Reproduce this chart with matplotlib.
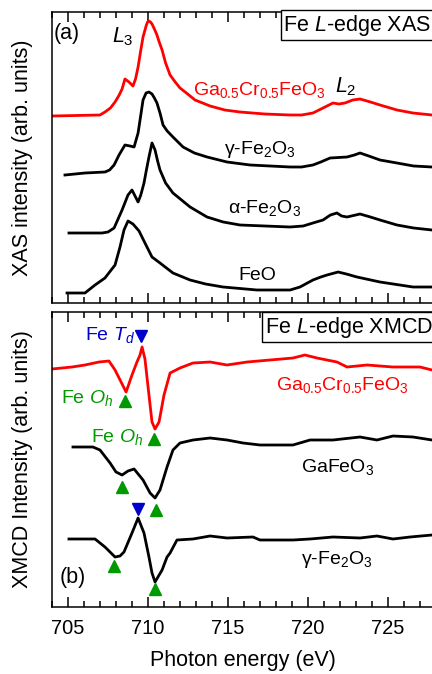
import numpy as np
import matplotlib
matplotlib.use("Agg")
import matplotlib.pyplot as plt
from matplotlib.ticker import MultipleLocator

plt.rcParams["font.family"] = ["Liberation Sans", "DejaVu Sans"]
plt.rcParams["mathtext.fontset"] = "custom"
plt.rcParams["mathtext.rm"] = "Liberation Sans"
plt.rcParams["mathtext.it"] = "Liberation Sans:italic"

RED = "#ff0000"
GREEN = "#009a00"
BLUE = "#0000cc"

# --- (a) XAS spectra, offset, arb. units ---
xas_gcfo_e = [704.0, 707.0, 707.31, 707.65, 707.94, 708.2, 708.38, 708.56, 708.81, 709.06, 709.22,
              709.38, 709.54, 709.69, 709.88, 709.97, 710.06, 710.15, 710.25, 710.4, 710.56, 710.7,
              710.88, 711.1, 711.38, 711.7, 712.0, 712.4, 712.94, 713.88, 714.8, 715.75, 717.3,
              718.88, 719.6, 720.31, 720.94, 721.56, 721.94, 722.31, 722.8, 723.25, 723.9, 724.5,
              725.56, 726.56, 727.75]
xas_gcfo_i = [1.87, 1.88, 1.91, 1.95, 2.01, 2.08, 2.14, 2.24, 2.21, 2.17, 2.24,
              2.36, 2.52, 2.66, 2.77, 2.81, 2.82, 2.81, 2.79, 2.74, 2.68, 2.61,
              2.53, 2.40, 2.28, 2.21, 2.15, 2.10, 2.03, 1.97, 1.93, 1.91, 1.89,
              1.88, 1.88, 1.90, 1.95, 2.00, 1.99, 2.00, 2.03, 2.04, 2.01, 1.98,
              1.93, 1.90, 1.88]

xas_gfo_e = [704.81, 706.06, 707.31, 707.6, 707.88, 708.19, 708.56, 708.88, 709.13, 709.38, 709.55,
             709.69, 709.88, 710.06, 710.25, 710.4, 710.56, 710.75, 710.94, 711.2, 711.56, 712.19,
             712.9, 713.69, 714.94, 716.38, 718.88, 719.6, 720.31, 720.8, 721.38, 722.44, 722.9,
             723.25, 723.8, 724.5, 725.56, 726.6, 727.75]
xas_gfo_i = [1.28, 1.30, 1.31, 1.33, 1.38, 1.48, 1.58, 1.57, 1.56, 1.70, 1.88,
             2.03, 2.10, 2.11, 2.09, 2.05, 2.00, 1.90, 1.78, 1.72, 1.66, 1.56,
             1.50, 1.46, 1.41, 1.38, 1.36, 1.36, 1.38, 1.41, 1.45, 1.46, 1.48,
             1.50, 1.47, 1.43, 1.40, 1.37, 1.36]

xas_afo_e = [705.06, 707.13, 707.5, 707.88, 708.38, 708.75, 709.0, 709.19, 709.38, 709.55, 709.75,
             709.9, 710.06, 710.25, 710.44, 710.6, 710.75, 711.1, 711.56, 712.63, 713.69, 714.7,
             715.75, 718.88, 719.7, 720.31, 720.94, 721.4, 721.81, 722.1, 722.44, 723.25, 723.9,
             724.5, 725.56, 726.6, 727.75]
xas_afo_i = [0.70, 0.70, 0.71, 0.75, 0.93, 1.08, 1.13, 1.07, 1.01, 1.08, 1.20,
             1.33, 1.46, 1.60, 1.53, 1.42, 1.33, 1.20, 1.10, 0.96, 0.86, 0.81,
             0.78, 0.76, 0.77, 0.80, 0.83, 0.88, 0.90, 0.87, 0.86, 0.89, 0.86,
             0.83, 0.78, 0.75, 0.73]

xas_feo_e = [704.94, 706.06, 706.69, 707.31, 707.94, 708.25, 708.5, 708.75, 709.06, 709.44, 709.81,
             710.25, 710.75, 711.56, 712.63, 713.6, 714.69, 716.81, 718.88, 719.5, 720.31, 720.8,
             721.19, 721.88, 722.4, 723.06, 724.5, 726.56, 727.75]
xas_feo_i = [0.10, 0.10, 0.18, 0.25, 0.38, 0.56, 0.73, 0.82, 0.79, 0.72, 0.60,
             0.46, 0.40, 0.30, 0.23, 0.19, 0.16, 0.13, 0.13, 0.16, 0.23, 0.26,
             0.28, 0.31, 0.29, 0.26, 0.21, 0.16, 0.16]

# --- (b) XMCD spectra, offset, arb. units ---
xmcd_gcfo_e = [704.0, 705.25, 706.06, 706.94, 707.56, 707.94, 708.38, 708.63, 709.0, 709.31, 709.5,
               709.63, 709.81, 710.06, 710.25, 710.44, 710.69, 711.0, 711.38, 712.0, 712.81, 713.88,
               714.94, 716.19, 717.63, 719.06, 719.81, 720.56, 721.81, 722.44, 723.69, 725.31,
               727.0, 727.75]
xmcd_gcfo_i = [2.38, 2.40, 2.42, 2.45, 2.46, 2.37, 2.23, 2.15, 2.32, 2.45, 2.52,
               2.60, 2.48, 2.12, 1.85, 1.78, 1.85, 2.12, 2.34, 2.39, 2.44, 2.45,
               2.42, 2.45, 2.47, 2.49, 2.52, 2.49, 2.45, 2.40, 2.42, 2.40,
               2.40, 2.37]

xmcd_gfo_e = [705.31, 706.56, 707.0, 707.63, 708.0, 708.38, 708.75, 709.13, 709.69, 710.13, 710.44,
              710.75, 711.19, 711.56, 712.0, 712.81, 713.88, 714.94, 715.94, 717.0, 719.06, 720.13,
              721.56, 723.25, 724.31, 725.31, 726.56, 727.75]
xmcd_gfo_i = [1.60, 1.60, 1.57, 1.44, 1.35, 1.32, 1.36, 1.38, 1.27, 1.14, 1.09,
              1.17, 1.40, 1.57, 1.64, 1.67, 1.69, 1.67, 1.64, 1.62, 1.62, 1.67,
              1.67, 1.70, 1.67, 1.71, 1.70, 1.67]

xmcd_gam_e = [705.06, 706.69, 707.31, 707.94, 708.25, 708.5, 709.0, 709.38, 709.75, 710.06, 710.25,
              710.44, 710.88, 711.19, 711.38, 711.81, 712.81, 713.88, 714.94, 716.56, 717.0, 719.06,
              720.13, 721.56, 723.25, 724.31, 725.31, 726.38, 727.75]
xmcd_gam_i = [0.68, 0.68, 0.60, 0.50, 0.51, 0.55, 0.74, 0.89, 0.74, 0.50, 0.34,
              0.25, 0.37, 0.50, 0.54, 0.67, 0.68, 0.71, 0.69, 0.70, 0.67, 0.67,
              0.68, 0.70, 0.69, 0.71, 0.68, 0.70, 0.72]

# site markers (energy, intensity)
oh_e = [708.56, 710.38, 708.38, 710.5, 707.88, 710.44]
oh_i = [2.06, 1.68, 1.20, 0.97, 0.41, 0.18]
td_e = [709.56, 709.38]
td_i = [2.71, 0.98]

fig = plt.figure(figsize=(4.32, 6.74), dpi=100)
ax1 = fig.add_axes([52 / 432, 371 / 674, 382 / 432, 291 / 674])
ax2 = fig.add_axes([52 / 432, 67 / 674, 382 / 432, 295 / 674])

lw = 2.0
ax1.plot(xas_gcfo_e, xas_gcfo_i, color=RED, lw=lw)
ax1.plot(xas_gfo_e, xas_gfo_i, color="black", lw=lw)
ax1.plot(xas_afo_e, xas_afo_i, color="black", lw=lw)
ax1.plot(xas_feo_e, xas_feo_i, color="black", lw=lw)
ax1.set_ylim(0, 2.91)

ax2.plot(xmcd_gcfo_e, xmcd_gcfo_i, color=RED, lw=lw)
ax2.plot(xmcd_gfo_e, xmcd_gfo_i, color="black", lw=lw)
ax2.plot(xmcd_gam_e, xmcd_gam_i, color="black", lw=lw)
ax2.plot(oh_e, oh_i, ls="none", marker="^", ms=8, color=GREEN)
ax2.plot(td_e, td_i, ls="none", marker="v", ms=8, color=BLUE)
ax2.set_ylim(0, 2.95)

for ax in (ax1, ax2):
    ax.set_xlim(704.0, 727.875)
    ax.xaxis.set_major_locator(MultipleLocator(5))
    ax.xaxis.set_minor_locator(MultipleLocator(1))
    ax.tick_params(axis="x", which="both", direction="in", top=True, bottom=True, width=1.1)
    ax.tick_params(axis="x", which="major", length=7)
    ax.tick_params(axis="x", which="minor", length=4.3)
    ax.set_yticks([])
    for s in ax.spines.values():
        s.set_linewidth(1.1)

ax1.tick_params(axis="x", labelbottom=False)
ax2.tick_params(axis="x", labelsize=14.5, pad=9)

ax1.set_ylabel("XAS intensity (arb. units)", fontsize=15.5)
ax2.set_ylabel("XMCD Intensity (arb. units)", fontsize=15.5)
ax2.set_xlabel("Photon energy (eV)", fontsize=15.5, labelpad=8)
ax1.yaxis.set_label_coords(-0.05, 0.5)
ax2.yaxis.set_label_coords(-0.05, 0.5)

fs = 14
ax1.text(704.94, 2.70, "(a)", fontsize=15.5, ha="center", va="center")
ax1.text(708.44, 2.66, r"$\mathit{L}_3$", fontsize=15.5, ha="center", va="center")
ax1.text(722.38, 2.16, r"$\mathit{L}_2$", fontsize=15.5, ha="center", va="center")
ax1.text(712.81, 2.13, r"Ga$_{0.5}$Cr$_{0.5}$FeO$_3$", color=RED, fontsize=fs, ha="left", va="center")
ax1.text(714.75, 1.53, r"γ-Fe$_2$O$_3$", fontsize=fs, ha="left", va="center")
ax1.text(715.0, 0.95, r"α-Fe$_2$O$_3$", fontsize=fs, ha="left", va="center")
ax1.text(715.63, 0.28, "FeO", fontsize=fs, ha="left", va="center")
ax1.text(718.45, 2.78, r"Fe $\mathit{L}$-edge XAS", fontsize=15.5, ha="left", va="center",
         bbox=dict(boxstyle="square,pad=0.12", fc="white", ec="black", lw=1.0))

ax2.text(706.06, 2.72, r"Fe $\mathit{T}_d$", color=BLUE, fontsize=fs, ha="left", va="center")
ax2.text(704.56, 2.09, r"Fe $\mathit{O}_h$", color=GREEN, fontsize=fs, ha="left", va="center")
ax2.text(706.44, 1.70, r"Fe $\mathit{O}_h$", color=GREEN, fontsize=fs, ha="left", va="center")
ax2.text(718.0, 2.22, r"Ga$_{0.5}$Cr$_{0.5}$FeO$_3$", color=RED, fontsize=fs, ha="left", va="center")
ax2.text(719.56, 1.40, r"GaFeO$_3$", fontsize=fs, ha="left", va="center")
ax2.text(719.56, 0.47, r"γ-Fe$_2$O$_3$", fontsize=fs, ha="left", va="center")
ax2.text(704.5, 0.30, "(b)", fontsize=15.5, ha="left", va="center")
ax2.text(717.31, 2.80, r"Fe $\mathit{L}$-edge XMCD", fontsize=15.5, ha="left", va="center",
         bbox=dict(boxstyle="square,pad=0.12", fc="white", ec="black", lw=1.0))

fig.savefig("out.png", dpi=100)
